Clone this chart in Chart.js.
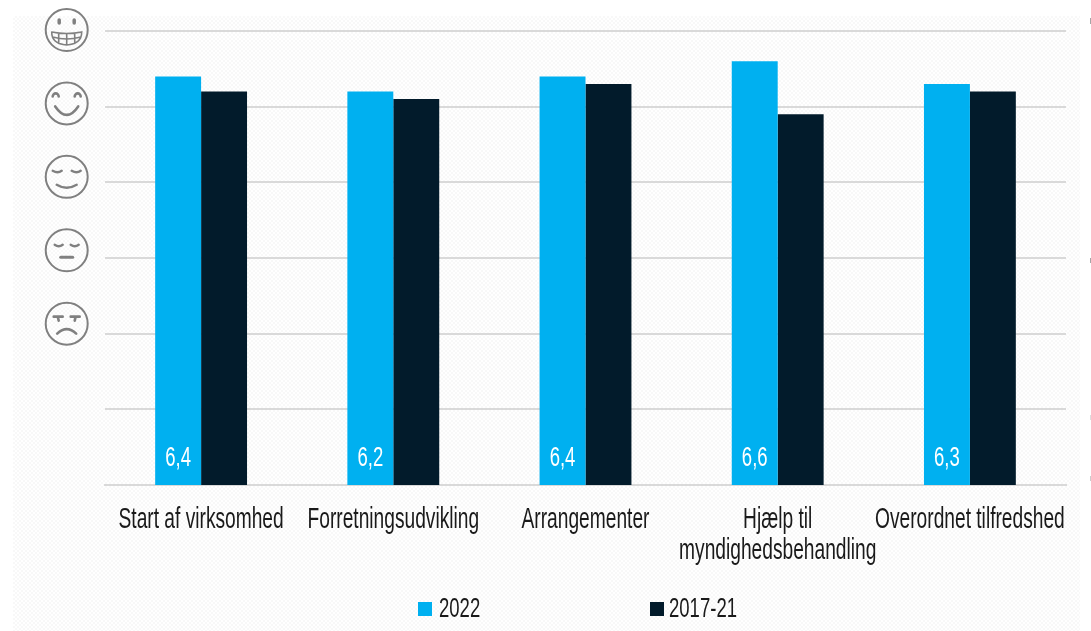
<!DOCTYPE html>
<html>
<head>
<meta charset="utf-8">
<style>
    html, body { margin: 0; padding: 0; background: #ffffff; }
    #wrap { position: relative; width: 1091px; height: 631px; overflow: hidden; }
    /* faint dotted slide background behind the chart */
    #bg {
        position: absolute; left: 13px; top: 16px; width: 1067px; height: 615px;
        background-color: #ffffff;
        background-image: conic-gradient(#f8f8f8 25%, #ffffff 0 50%, #f8f8f8 0 75%, #ffffff 0);
        background-size: 4px 4px;
    }
    /* clipped edge of the next slide's icons */
    .stub { position: absolute; left: 1090px; width: 1px; background: #a6a6a6; }
    canvas { position: absolute; left: 0; top: 0; }
</style>
</head>
<body>
<div id="wrap">
    <div id="bg"></div>
    <div class="stub" style="top:18px;height:6px"></div>
    <div class="stub" style="top:258px;height:5px"></div>
    <div class="stub" style="top:415px;height:5px;background:#dddddd"></div>
    <div class="stub" style="top:476px;height:5px;background:#cccccc"></div>
    <canvas id="chart" width="1091" height="631"></canvas>
</div>
<script src="https://cdn.jsdelivr.net/npm/chart.js@4"></script>
<script>
const categories = ['Start af virksomhed', 'Forretningsudvikling', 'Arrangementer', ['Hjælp til', 'myndighedsbehandling'], 'Overordnet tilfredshed'];
const values2022 = [6.4, 6.2, 6.4, 6.6, 6.3];
const values201721 = [6.2, 6.1, 6.3, 5.9, 6.2];
const faces = ['grin', 'happy', 'content', 'neutral', 'sad'];

const FONT = '"Liberation Sans", sans-serif';
const TEXT_SQUEEZE = 0.65;

const canvas = document.getElementById('chart');
const context = canvas.getContext('2d');

// No condensed font is installed, so squeeze all canvas text horizontally
const plainFillText = context.fillText.bind(context);
const plainMeasureText = context.measureText.bind(context);
context.fillText = (text, x, y) => {
    context.save();
    context.translate(x, y);
    context.scale(TEXT_SQUEEZE, 1);
    plainFillText(text, 0, 0);
    context.restore();
};
context.measureText = (text) => ({ width: plainMeasureText(text).width * TEXT_SQUEEZE });

// Draws one smiley, the y-axis of the original uses these instead of numbers
function drawFace(ctx, kind, cx, cy) {
    ctx.save();
    ctx.translate(cx, cy);
    ctx.strokeStyle = '#808080';
    ctx.fillStyle = '#808080';
    ctx.lineWidth = 2;
    ctx.lineCap = 'round';
    ctx.beginPath();
    ctx.arc(0, 0, 21, 0, Math.PI * 2);
    ctx.stroke();

    if (kind === 'grin') {
        ctx.lineWidth = 3.5;
        ctx.beginPath();
        ctx.moveTo(-7.5, -10); ctx.lineTo(-7.5, -7);
        ctx.moveTo(7.5, -10); ctx.lineTo(7.5, -7);
        ctx.stroke();
        ctx.lineWidth = 1.6;
        ctx.beginPath();
        ctx.moveTo(-15, 2);
        ctx.quadraticCurveTo(0, 5, 15, 2);
        ctx.quadraticCurveTo(15, 14, 0, 15);
        ctx.quadraticCurveTo(-15, 14, -15, 2);
        ctx.moveTo(-14, 7); ctx.quadraticCurveTo(0, 11, 14, 7);
        ctx.moveTo(-8, 3.5); ctx.lineTo(-8, 13.5);
        ctx.moveTo(0, 4); ctx.lineTo(0, 15);
        ctx.moveTo(8, 3.5); ctx.lineTo(8, 13.5);
        ctx.stroke();
    } else if (kind === 'happy') {
        ctx.lineWidth = 2.6;
        ctx.beginPath();
        ctx.arc(-11, -7, 3, Math.PI, 0);
        ctx.moveTo(14, -7);
        ctx.arc(11, -7, 3, 0, Math.PI, true);
        ctx.stroke();
        ctx.beginPath();
        ctx.moveTo(-11.5, 3);
        ctx.quadraticCurveTo(0, 20, 11.5, 3);
        ctx.stroke();
    } else if (kind === 'content') {
        ctx.lineWidth = 2.4;
        ctx.beginPath();
        ctx.moveTo(-14, -6); ctx.quadraticCurveTo(-9, -3, -5, -6);
        ctx.moveTo(5, -6); ctx.quadraticCurveTo(10, -3, 14, -6);
        ctx.stroke();
        ctx.beginPath();
        ctx.moveTo(-10, 8);
        ctx.quadraticCurveTo(0, 14, 10, 8);
        ctx.stroke();
    } else if (kind === 'neutral') {
        ctx.lineWidth = 2.4;
        ctx.beginPath();
        ctx.moveTo(-12, -5.5); ctx.quadraticCurveTo(-8, -2.5, -4, -5.5);
        ctx.moveTo(4, -5.5); ctx.quadraticCurveTo(8, -2.5, 12, -5.5);
        ctx.stroke();
        ctx.lineWidth = 3;
        ctx.beginPath();
        ctx.moveTo(-6, 7); ctx.lineTo(6, 7);
        ctx.stroke();
    } else {
        ctx.lineWidth = 2.6;
        ctx.beginPath();
        ctx.moveTo(-13, -7); ctx.lineTo(-4, -7);
        ctx.moveTo(-9, -7); ctx.lineTo(-8, -3);
        ctx.moveTo(13, -7); ctx.lineTo(4, -7);
        ctx.moveTo(9, -7); ctx.lineTo(8, -3);
        ctx.stroke();
        ctx.beginPath();
        ctx.moveTo(-9.5, 10);
        ctx.quadraticCurveTo(0, 1, 9.5, 10);
        ctx.stroke();
    }
    ctx.restore();
}

const facePlugin = {
    id: 'facePlugin',
    afterDraw(chart) {
        const y = chart.scales.y;
        faces.forEach((kind, i) => {
            // 7 is the top line, the icons drift a little above their gridlines
            drawFace(chart.ctx, kind, 66.7, y.getPixelForValue(7 - i) - 1 - i * 2.25);
        });
    }
};

// White value labels at the foot of the 2022 bars only
const valueLabelPlugin = {
    id: 'valueLabelPlugin',
    afterDatasetsDraw(chart) {
        const ctx = chart.ctx;
        const meta = chart.getDatasetMeta(0);
        ctx.save();
        ctx.fillStyle = '#ffffff';
        ctx.font = '28.5px ' + FONT;
        ctx.textAlign = 'center';
        ctx.textBaseline = 'middle';
        meta.data.forEach((bar, i) => {
            ctx.fillText(values2022[i].toFixed(1).replace('.', ','), bar.x, chart.scales.y.bottom - 27);
        });
        ctx.restore();
    }
};

// Legend by hand: the built-in one grows in height with the wide gap between its items
const legendPlugin = {
    id: 'legendPlugin',
    afterDraw(chart) {
        const ctx = chart.ctx;
        const swatchLeft = [418, 650];
        const textGap = [21, 19];
        ctx.save();
        ctx.font = '28.5px ' + FONT;
        ctx.textAlign = 'left';
        ctx.textBaseline = 'middle';
        chart.data.datasets.forEach((ds, i) => {
            ctx.fillStyle = ds.backgroundColor;
            ctx.fillRect(swatchLeft[i], 602, 14, 14);
            ctx.fillStyle = '#1a1a1a';
            ctx.fillText(ds.label, swatchLeft[i] + textGap[i], 609);
        });
        ctx.restore();
    }
};

new Chart(canvas, {
    type: 'bar',
    data: {
        labels: categories,
        datasets: [
            { label: '2022', data: values2022, backgroundColor: '#00b0f0' },
            { label: '2017-21', data: values201721, backgroundColor: '#021b2b' }
        ]
    },
    options: {
        responsive: false,
        animation: false,
        layout: { padding: { left: 105, right: 25, top: 31, bottom: 0 } },
        datasets: { bar: { categoryPercentage: 0.478, barPercentage: 1 } },
        plugins: {
            tooltip: { enabled: false },
            legend: { display: false }
        },
        scales: {
            x: {
                afterFit(scale) { scale.height = 146; },
                grid: { display: false },
                border: { color: '#d9d9d9', width: 2 },
                ticks: {
                    color: '#1a1a1a',
                    padding: 11,
                    maxRotation: 0,
                    autoSkip: false,
                    font: { family: FONT, size: 29.5, lineHeight: 1.05 }
                }
            },
            y: {
                min: 1,
                max: 7,
                afterFit(scale) { scale.width = 0; },
                grid: { color: '#d9d9d9', lineWidth: 2, drawTicks: false },
                border: { display: false },
                ticks: { stepSize: 1, display: false }
            }
        }
    },
    plugins: [valueLabelPlugin, facePlugin, legendPlugin]
});
</script>
</body>
</html>
